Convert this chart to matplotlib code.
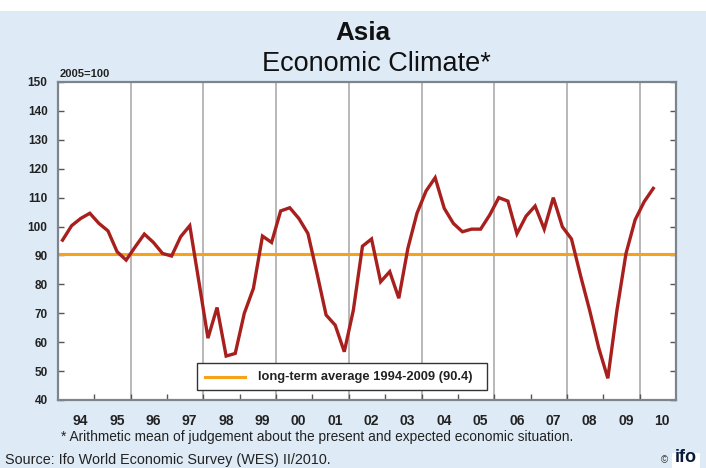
import matplotlib
matplotlib.use("Agg")
import matplotlib.pyplot as plt
from matplotlib.patches import Rectangle
from matplotlib.lines import Line2D

plt.rcParams['font.family'] = ['Liberation Sans', 'DejaVu Sans']

# Quarterly WES economic climate, Asia, 1994 Q1 - 2010 Q2 (2005=100)
start_year = 1994
climate = [
    95.3, 100.3, 102.8, 104.6,   # 1994
    101.1, 98.5, 91.3, 88.4,     # 1995
    93.0, 97.4, 94.5, 90.7,      # 1996
    89.8, 96.5, 100.3, 81.0,     # 1997
    61.4, 72.0, 55.2, 56.1,      # 1998
    70.0, 78.6, 96.7, 94.5,      # 1999
    105.4, 106.5, 102.8, 97.6,   # 2000
    83.8, 69.4, 65.9, 56.7,      # 2001
    71.1, 93.2, 95.7, 80.9,      # 2002
    84.4, 75.2, 92.5, 104.6,     # 2003
    112.3, 116.9, 106.3, 101.1,  # 2004
    98.2, 99.1, 99.1, 104.0,     # 2005
    110.0, 108.8, 97.5, 103.6,   # 2006
    107.1, 99.1, 110.0, 99.9,    # 2007
    95.7, 83.0, 71.0, 58.0,      # 2008
    47.5, 71.0, 90.7, 102.3,     # 2009
    108.6, 113.2,                # 2010
]
long_term_avg = 90.4
year_labels = ['94', '95', '96', '97', '98', '99', '00', '01', '02', '03',
               '04', '05', '06', '07', '08', '09', '10']
y_ticks = [40, 50, 60, 70, 80, 90, 100, 110, 120, 130, 140, 150]

title = "Asia"
subtitle = "Economic Climate*"
unit_note = "2005=100"
legend_text = "long-term average 1994-2009 (90.4)"
footnote = "* Arithmetic mean of judgement about the present and expected economic situation."
source = "Source: Ifo World Economic Survey (WES) II/2010."

x_vals = [start_year + (i + 0.5) / 4 for i in range(len(climate))]

W, H = 706, 468
fig = plt.figure(figsize=(W / 100, H / 100), dpi=100)
fig.patch.set_facecolor('white')
bg = Rectangle((0, 0), 1, 1 - 11 / H, transform=fig.transFigure,
               facecolor='#deebf7', edgecolor='none', zorder=-10)
fig.patches.append(bg)

ax = fig.add_axes([58 / W, 1 - 400 / H, (676 - 58) / W, (400 - 82) / H])
ax.set_zorder(1)
ax.set_facecolor('white')
ax.set_xlim(start_year, start_year + len(year_labels))
ax.set_ylim(40, 150)

# vertical grid at even years
for yr in range(1996, 2011, 2):
    ax.axvline(yr, color='#b8b8b8', lw=1.4, zorder=1)

ax.axhline(long_term_avg, color='#f7a21b', lw=2.2, zorder=2)
ax.plot(x_vals, climate, color='#a8201e', lw=2.4, zorder=3,
        solid_joinstyle='miter')

for s in ax.spines.values():
    s.set_color('#7d848c')
    s.set_linewidth(1.6)

ax.set_yticks(y_ticks)
ax.set_yticklabels([str(v) for v in y_ticks], fontsize=8.5, fontweight='bold',
                   color='#222222')
ax.tick_params(axis='y', direction='in', left=True, right=True, length=4,
               width=1, color='#555555', pad=7.5)

years = list(range(start_year + 1, start_year + len(year_labels)))
ax.set_xticks(years)
ax.set_xticklabels([])
ax.set_xticks([start_year + i + 0.62 for i in range(len(year_labels))], minor=True)
ax.set_xticklabels(year_labels, minor=True, fontsize=10, fontweight='bold',
                   color='#222222')
ax.tick_params(axis='x', which='major', direction='in', length=4, width=1,
               color='#555555')
ax.tick_params(axis='x', which='minor', length=0, pad=10)

# legend box (drawn in figure coords above the axes)
lx0, lx1 = 197, 487
ly0, ly1 = 363, 390
fig.patches.append(Rectangle((lx0 / W, 1 - ly1 / H), (lx1 - lx0) / W, (ly1 - ly0) / H,
                             transform=fig.transFigure, facecolor='white',
                             edgecolor='#333333', lw=1.0, zorder=5))
fig.lines.append(Line2D([205 / W, 245 / W], [1 - 377 / H] * 2,
                        transform=fig.transFigure, color='#f7a21b', lw=2.2,
                        zorder=6))
fig.text(258 / W, 1 - 377 / H, legend_text, fontsize=9.3, fontweight='bold',
         va='center', ha='left', color='#222222', zorder=7)

fig.text(363 / W, 1 - 33 / H, title, fontsize=18.7, fontweight='bold',
         ha='center', va='center', color='#111111')
fig.text(376.5 / W, 1 - 64 / H, subtitle, fontsize=19.5, ha='center', va='center',
         color='#111111')
fig.text(60 / W, 1 - 74 / H, unit_note, fontsize=8, fontweight='bold',
         ha='left', va='center', color='#222222')
fig.text(61 / W, 1 - 437 / H, footnote, fontsize=9.9, ha='left', va='center',
         color='#222222')
fig.text(5 / W, 1 - 460 / H, source, fontsize=10.4, ha='left', va='center',
         color='#222222')

# ifo mark
fig.patches.append(Rectangle((672 / W, 0), 28 / W, 15 / H,
                             transform=fig.transFigure, facecolor='white',
                             edgecolor='none', zorder=5))
fig.text(664 / W, 1 - 460 / H, "©", fontsize=7, ha='center', va='center',
         color='#333333', zorder=6)
fig.text(686 / W, 1 - 458 / H, "ifo", fontsize=13, fontweight='bold',
         ha='center', va='center', color='#0a1a3a', zorder=6)

fig.savefig('out.png', dpi=100, facecolor=fig.get_facecolor())
